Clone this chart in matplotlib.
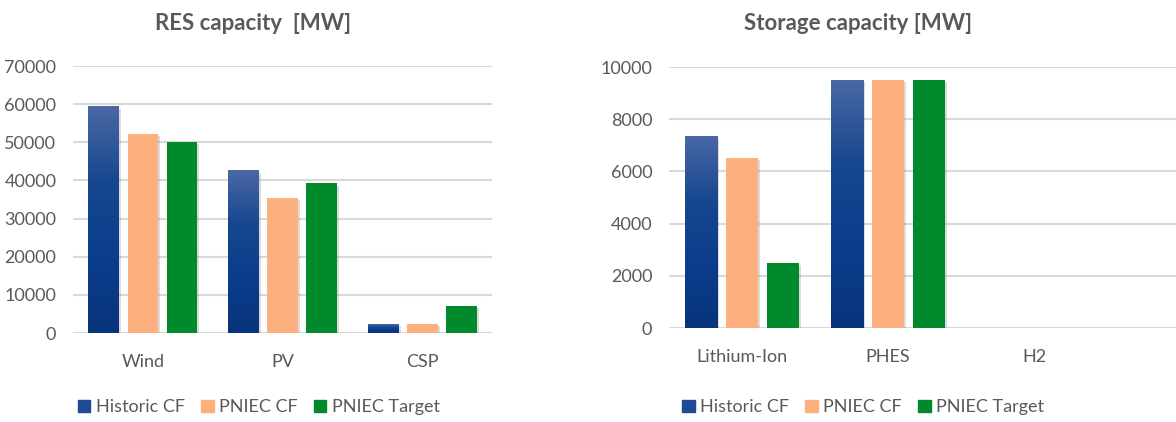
import matplotlib
matplotlib.use("Agg")
import matplotlib.pyplot as plt
import matplotlib.patheffects as pe
from matplotlib.colors import LinearSegmentedColormap
from matplotlib.patches import Patch
import numpy as np

# 数据
res_categories = ["Wind", "PV", "CSP"]
res_historic = [59300, 42600, 2300]
res_pniec_cf = [52200, 35300, 2300]
res_pniec_target = [50100, 39200, 7100]

storage_categories = ["Lithium-Ion", "PHES", "H2"]
storage_historic = [7330, 9500, 0]
storage_pniec_cf = [6530, 9500, 0]
storage_pniec_target = [2500, 9500, 0]

series_names = ["Historic CF", "PNIEC CF", "PNIEC Target"]

TEXT = "#595959"
GRID = "#d9d9d9"
ORANGE = "#fbb07e"
GREEN = "#008a2c"
BLUE = "#123f8a"
blue_grad = LinearSegmentedColormap.from_list(
    "bg", ["#08347c", "#0b3d8c", "#16478f", "#4a68a4"])

plt.rcParams["font.family"] = ["Lato", "DejaVu Sans"]

fig = plt.figure(figsize=(11.76, 4.22), dpi=100)


def draw_panel(ax, cats, values, ymax, ystep, xmax, title, title_x, legend_x):
    x = np.arange(len(cats))
    w = 0.22
    step = 0.28
    shadow = [pe.SimplePatchShadow(offset=(1.5, -1.5), shadow_rgbFace="#999999", alpha=0.35),
              pe.Normal()]
    colors = [BLUE, ORANGE, GREEN]
    for i, vals in enumerate(values):
        bars = ax.bar(x + (i - 1) * step, vals, width=w, color=colors[i],
                      zorder=3, path_effects=shadow)
        if i == 0:
            # 蓝色柱子做渐变
            grad = np.linspace(0, 1, 256).reshape(-1, 1)
            for b in bars:
                if b.get_height() <= 0:
                    continue
                x0, y0 = b.get_x(), b.get_y()
                ax.imshow(grad, extent=[x0, x0 + b.get_width(), y0, y0 + b.get_height()],
                          origin="lower", aspect="auto", cmap=blue_grad, zorder=4)
    ax.set_xlim(-0.5, xmax)
    ax.set_ylim(0, ymax)
    ax.set_yticks(np.arange(0, ymax + 1, ystep))
    ax.set_xticks(x)
    ax.set_xticklabels(cats)
    ax.tick_params(length=0, colors=TEXT, labelsize=13)
    ax.tick_params(axis="x", pad=15)
    ax.tick_params(axis="y", pad=12)
    for s in ax.spines.values():
        s.set_visible(False)
    ax.grid(axis="y", color=GRID, linewidth=1.5, zorder=0)
    ax.set_axisbelow(True)
    fig.text(title_x, 0.945, title, ha="center", va="center",
             fontsize=16, fontweight="bold", color=TEXT)
    handles = [Patch(color=c) for c in ["#1f4a93", ORANGE, GREEN]]
    fig.legend(handles, series_names, loc="center", bbox_to_anchor=(legend_x, 0.035),
               ncol=3, frameon=False, fontsize=13, labelcolor=TEXT,
               handlelength=0.7, handleheight=0.7, handletextpad=0.3,
               columnspacing=0.9)


ax1 = fig.add_axes([0.0621, 0.2109, 0.3563, 0.6327])
draw_panel(ax1, res_categories, [res_historic, res_pniec_cf, res_pniec_target],
           70000, 10000, 2.5, "RES capacity  [MW]", 0.215, 0.22)

ax2 = fig.add_axes([0.5689, 0.2227, 0.4311, 0.6185])
draw_panel(ax2, storage_categories, [storage_historic, storage_pniec_cf, storage_pniec_target],
           10000, 2000, 2.97, "Storage capacity [MW]", 0.73, 0.734)

fig.savefig("out.png", dpi=100, facecolor="white")
